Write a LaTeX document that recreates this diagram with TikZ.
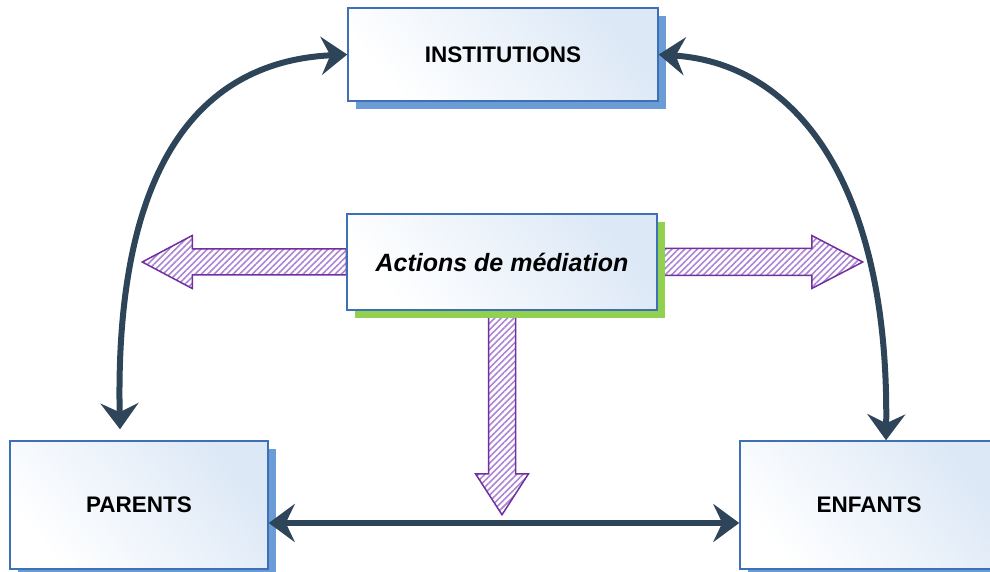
\documentclass[tikz,border=0pt]{standalone}
\usepackage{fontspec}
\setmainfont{Liberation Sans}
\usetikzlibrary{arrows.meta,shadows,patterns.meta,calc,backgrounds}

\definecolor{boxedge}{RGB}{62,112,182}
\definecolor{boxtint}{RGB}{220,232,246}
\definecolor{shadeblue}{RGB}{108,156,214}
\definecolor{shadegreen}{RGB}{146,208,80}
\definecolor{linkdark}{RGB}{46,68,89}
\definecolor{hatchline}{RGB}{112,48,160}
\definecolor{hatchfill}{RGB}{172,132,212}

\begin{document}
\begin{tikzpicture}[x=1pt,y=1pt,
  box/.style={draw=boxedge, line width=1.5pt, inner sep=0pt,
    top color=boxtint, bottom color=white, shading angle=-50,
    font=\bfseries\fontsize{22.5}{27}\selectfont, align=center},
  blueshadow/.style={general shadow={shadow xshift=8pt, shadow yshift=-8pt, fill=shadeblue}},
  greenshadow/.style={general shadow={shadow xshift=8pt, shadow yshift=-8pt, fill=shadegreen}},
  tipdark/.tip={Stealth[length=26pt,width=38pt,inset=9pt]},
  link/.style={draw=linkdark, line width=6pt, tipdark-tipdark},
  blockarrow/.style={draw=hatchline, line width=1.5pt, line join=miter,
    pattern={Lines[angle=45,distance=4.5pt,line width=1.6pt]}, pattern color=hatchfill}
]
\useasboundingbox (0,0) rectangle (990,571);

% the four boxes
\node[box, blueshadow, minimum width=310pt, minimum height=93pt] (inst) at (503,516.5) {INSTITUTIONS};
\node[box, greenshadow, minimum width=310pt, minimum height=96pt,
      font=\bfseries\itshape\fontsize{25}{30}\selectfont] (act) at (502,309) {Actions de médiation};
\node[box, blueshadow, minimum width=258pt, minimum height=128pt] (par) at (139,66) {PARENTS};
\node[box, blueshadow, minimum width=258pt, minimum height=128pt] (enf) at (869,66) {ENFANTS};

% hatched block arrows leaving the mediation box
\begin{scope}[on background layer]
  \draw[blockarrow] ($(act.west)+(0,13)$) -- ++(-154,0) -- ++(0,13.5) -- ++(-50,-26.5)
      -- ++(50,-26.5) -- ++(0,13.5) -- ++(154,0) -- cycle;
  \draw[blockarrow] ($(act.east)+(0,13.5)$) -- ++(154,0) -- ++(0,13) -- ++(51,-26.5)
      -- ++(-51,-26.5) -- ++(0,13) -- ++(-154,0) -- cycle;
  \draw[blockarrow] ($(act.south)+(-13.5,0)$) -- ++(0,-163) -- ++(-13,0) -- ++(26.5,-41)
      -- ++(26.5,41) -- ++(-13,0) -- ++(0,163) -- cycle;
\end{scope}

% curved and straight two-way links
\coordinate (partop) at ($(par.north)+(-19,11)$);
\coordinate (enftop) at ($(enf.north)+(17,0)$);
\draw[link] (partop) .. controls (115,391) and (190,509) .. (inst.west);
\draw[link] (inst.east) .. controls (800,507) and (889,381) .. (enftop);
\draw[link] ($(par.east)+(0,-18)$) -- ($(enf.west)+(0,-18)$);
\end{tikzpicture}
\end{document}
